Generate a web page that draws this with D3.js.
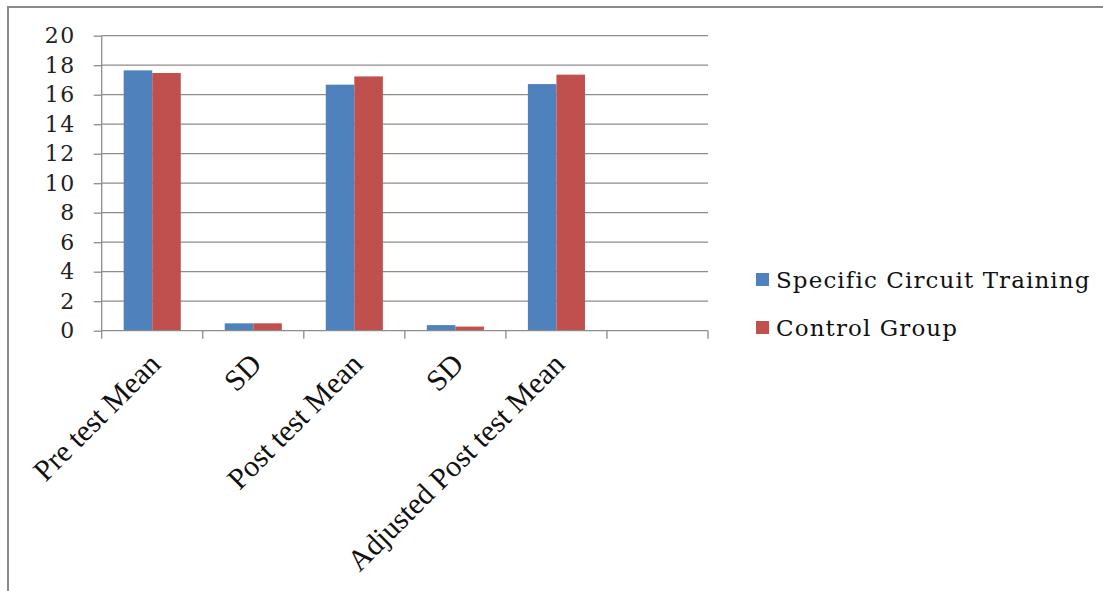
<!DOCTYPE html>
<html>
<head>
<meta charset="utf-8">
<script src="https://cdn.jsdelivr.net/npm/d3@7/dist/d3.min.js"></script>
<style>
  html, body { margin: 0; padding: 0; background: #fff; overflow: hidden; }
  svg { display: block; }
</style>
</head>
<body>
<svg id="chart" width="1103" height="591"></svg>
<script>
// Categories along the x axis (last slot is left empty)
const categories = ["Pre test Mean", "SD", "Post test Mean", "SD", "Adjusted Post test Mean", ""];
// Series values
const seriesNames = ["Specific Circuit Training", "Control Group"];
const circuitTraining = [17.65, 0.5, 16.68, 0.38, 16.72, null];
const controlGroup = [17.47, 0.5, 17.24, 0.28, 17.36, null];
// Y axis ticks
const yTicks = [0, 2, 4, 6, 8, 10, 12, 14, 16, 18, 20];

const colors = ["#4F81BD", "#C0504D"];
const series = [circuitTraining, controlGroup];

const svg = d3.select("#chart");
const W = 1103, H = 591;

// outer chart frame (runs off the right and bottom edges)
svg.append("rect")
  .attr("x", 8).attr("y", 7)
  .attr("width", W + 40).attr("height", H + 40)
  .attr("fill", "#fff")
  .attr("stroke", "#8a8a8a").attr("stroke-width", 2);

const plot = { left: 101.7, right: 708, top: 35.7, bottom: 330.7 };

const x0 = d3.scaleBand()
  .domain(d3.range(categories.length))
  .range([plot.left, plot.right])
  .padding(0);

const x1 = d3.scaleBand()
  .domain(d3.range(series.length))
  .range([0, x0.bandwidth()])
  .paddingInner(0)
  .paddingOuter(0.77);

const y = d3.scaleLinear().domain([0, 20]).range([plot.bottom, plot.top]);

// gridlines
svg.append("g")
  .selectAll("line")
  .data(yTicks.filter(d => d > 0))
  .join("line")
  .attr("x1", plot.left).attr("x2", plot.right)
  .attr("y1", d => y(d)).attr("y2", d => y(d))
  .attr("stroke", "#8c8c8c").attr("stroke-width", 1.3);

// bars
const groups = svg.append("g")
  .selectAll("g")
  .data(categories.map((c, i) => i))
  .join("g")
  .attr("transform", i => `translate(${x0(i)},0)`);

groups.selectAll("rect")
  .data(i => series.map((s, k) => ({ k, v: s[i] })).filter(d => d.v != null))
  .join("rect")
  .attr("x", d => x1(d.k))
  .attr("width", x1.bandwidth())
  .attr("y", d => y(d.v))
  .attr("height", d => y(0) - y(d.v))
  .attr("fill", d => colors[d.k]);

// y axis
const yAxis = d3.axisLeft(y).tickValues(yTicks).tickSize(8).tickFormat(d3.format("d"));
const gy = svg.append("g").attr("transform", `translate(${plot.left},0)`).call(yAxis);
gy.select(".domain").attr("stroke", "#8c8c8c").attr("stroke-width", 1.3).attr("d", `M0,${plot.top}V${plot.bottom}`);
gy.selectAll(".tick line").attr("stroke", "#8c8c8c").attr("stroke-width", 1.3);
gy.selectAll(".tick text")
  .attr("font-family", "DejaVu Serif")
  .attr("font-size", 22)
  .attr("letter-spacing", 1.5)
  .attr("fill", "#222")
  .attr("x", -26);

// x axis line with category boundary ticks
const xg = svg.append("g");
xg.append("line")
  .attr("x1", plot.left).attr("x2", plot.right)
  .attr("y1", plot.bottom).attr("y2", plot.bottom)
  .attr("stroke", "#8c8c8c").attr("stroke-width", 1.3);
xg.selectAll("line.tk")
  .data(d3.range(categories.length + 1))
  .join("line")
  .attr("class", "tk")
  .attr("x1", i => plot.left + i * x0.step())
  .attr("x2", i => plot.left + i * x0.step())
  .attr("y1", plot.bottom).attr("y2", plot.bottom + 8)
  .attr("stroke", "#8c8c8c").attr("stroke-width", 1.3);

// rotated category labels
xg.selectAll("text")
  .data(categories.map((c, i) => ({ c, i })).filter(d => d.c))
  .join("text")
  .attr("transform", d => `translate(${x0(d.i) + x0.bandwidth() / 2 + 10},366) rotate(-45)`)
  .attr("text-anchor", "end")
  .attr("font-family", "Liberation Serif")
  .attr("font-size", 30)
  .attr("fill", "#111")
  .text(d => d.c);

// legend
const legend = svg.append("g");
const legendRows = [280, 328];
seriesNames.forEach((name, k) => {
  legend.append("rect")
    .attr("x", 756).attr("y", legendRows[k] - 7)
    .attr("width", 13).attr("height", 13)
    .attr("fill", colors[k]);
  legend.append("text")
    .attr("x", 776).attr("y", legendRows[k])
    .attr("dy", "0.35em")
    .attr("font-family", "DejaVu Serif")
    .attr("font-size", 23)
    .attr("letter-spacing", 1.1)
    .attr("fill", "#111")
    .text(name);
});
</script>
</body>
</html>
